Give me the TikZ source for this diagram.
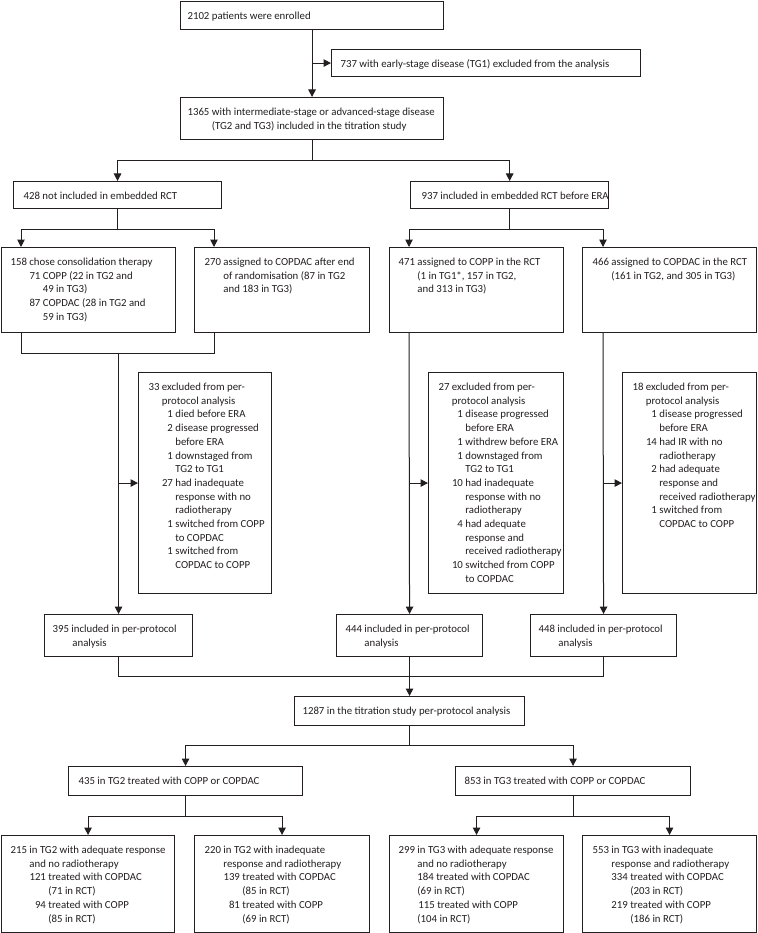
\documentclass[tikz,border=0pt]{standalone}
\usepackage{fontspec}
\setmainfont{Carlito}
\usetikzlibrary{arrows.meta,calc}
\definecolor{ink}{RGB}{35,31,32}
% one text line at x offset #1 (pt from the box's left edge)
\newcommand\Li[2]{\hbox{\vrule height10pt depth3.7pt width0pt\hskip#1pt\relax #2}}
% numbered sub line: x offset, number box width, number, text
\newcommand\Sn[4]{\hbox{\vrule height10pt depth3.7pt width0pt\hskip#1pt\relax\hbox to #2pt{\hss#3}\hskip2.44pt\relax #4}}
\newcommand\Body[3]{\vbox to #2pt{\baselineskip=13.7pt\lineskiplimit=-20pt\hrule height0pt depth0pt width#1pt\relax\vskip8pt #3\vss}}
% name, x1, y1, x2, y2, lines
\newcommand\flowbox[6]{\node[bx] (#1) at (#2,#3) {\Body{\fpeval{#4-#2}}{\fpeval{#5-#3}}{#6}};}
\tikzset{
  bx/.style={draw=ink, line width=1.1pt, inner sep=0pt, anchor=north west, text=ink,
    font=\fontsize{10.8}{13.7}\selectfont},
  ln/.style={draw=ink, line width=1pt},
  arr/.style={ln, -{Triangle[length=7.5pt,width=7.5pt]}},
}
\begin{document}
\begin{tikzpicture}[x=1pt,y=-1pt]
\useasboundingbox[fill=white] (0,0) rectangle (757,933);

\flowbox{b1}{180}{1}{443}{29}{\Li{7}{2102 patients were enrolled}}
\flowbox{b2}{331}{49}{640}{76}{\Li{9}{737 with early-stage disease (TG1) excluded from the analysis}}
\flowbox{b3}{180}{97}{443}{139}{\Li{7}{1365 with intermediate-stage or advanced-stage disease}
  \Li{31.4}{(TG2 and TG3) included in the titration study}}

\flowbox{b428}{13}{181}{221}{208}{\Li{10}{428 not included in embedded RCT}}
\flowbox{b937}{410}{181}{598}{208}{\Li{11}{937 included in embedded RCT before ERA}}

\flowbox{b158}{1}{247}{175}{332}{\Li{9}{158 chose consolidation therapy}
  \Sn{27.9}{11}{71}{COPP (22 in TG2 and}
  \Li{41.3}{49 in TG3)}
  \Sn{27.9}{11}{87}{COPDAC (28 in TG2 and}
  \Li{41.3}{59 in TG3)}}
\flowbox{b270}{194}{247}{369}{332}{\Li{10}{270 assigned to COPDAC after end}
  \Li{28.9}{of randomisation (87 in TG2}
  \Li{28.9}{and 183 in TG3)}}
\flowbox{b471}{389}{247}{563}{332}{\Li{9}{471 assigned to COPP in the RCT}
  \Li{27.9}{(1 in TG1*, 157 in TG2,}
  \Li{27.9}{and 313 in TG3)}}
\flowbox{b466}{582}{247}{756}{332}{\Li{10}{466 assigned to COPDAC in the RCT}
  \Li{28.9}{(161 in TG2, and 305 in TG3)}}

\flowbox{b33}{138}{372}{271}{593}{\Li{10}{33 excluded from per-}
  \Li{23.4}{protocol analysis}
  \Sn{23.4}{11}{1}{died before ERA}
  \Sn{23.4}{11}{2}{disease progressed}
  \Li{36.8}{before ERA}
  \Sn{23.4}{11}{1}{downstaged from}
  \Li{36.8}{TG2 to TG1}
  \Sn{23.4}{11}{27}{had inadequate}
  \Li{36.8}{response with no}
  \Li{36.8}{radiotherapy}
  \Sn{23.4}{11}{1}{switched from COPP}
  \Li{36.8}{to COPDAC}
  \Sn{23.4}{11}{1}{switched from}
  \Li{36.8}{COPDAC to COPP}}
\flowbox{b27}{428}{372}{563}{593}{\Li{10}{27 excluded from per-}
  \Li{23.4}{protocol analysis}
  \Sn{23.4}{11}{1}{disease progressed}
  \Li{36.8}{before ERA}
  \Sn{23.4}{11}{1}{withdrew before ERA}
  \Sn{23.4}{11}{1}{downstaged from}
  \Li{36.8}{TG2 to TG1}
  \Sn{23.4}{11}{10}{had inadequate}
  \Li{36.8}{response with no}
  \Li{36.8}{radiotherapy}
  \Sn{23.4}{11}{4}{had adequate}
  \Li{36.8}{response and}
  \Li{36.8}{received radiotherapy}
  \Sn{23.4}{11}{10}{switched from COPP}
  \Li{36.8}{to COPDAC}}
\flowbox{b18}{622}{372}{756}{593}{\Li{10}{18 excluded from per-}
  \Li{23.4}{protocol analysis}
  \Sn{23.4}{11}{1}{disease progressed}
  \Li{36.8}{before ERA}
  \Sn{23.4}{11}{14}{had IR with no}
  \Li{36.8}{radiotherapy}
  \Sn{23.4}{11}{2}{had adequate}
  \Li{36.8}{response and}
  \Li{36.8}{received radiotherapy}
  \Sn{23.4}{11}{1}{switched from}
  \Li{36.8}{COPDAC to COPP}}

\flowbox{b395}{44}{614}{192}{656}{\Li{8}{395 included in per-protocol}\Li{27.9}{analysis}}
\flowbox{b444}{336}{614}{482}{656}{\Li{9}{444 included in per-protocol}\Li{27.9}{analysis}}
\flowbox{b448}{530}{614}{676}{656}{\Li{8}{448 included in per-protocol}\Li{27.9}{analysis}}

\flowbox{b1287}{294}{696}{524}{725}{\Li{8}{1287 in the titration study per-protocol analysis}}

\flowbox{b435}{68}{766}{302}{795}{\Li{10}{435 in TG2 treated with COPP or COPDAC}}
\flowbox{b853}{455}{766}{690}{795}{\Li{9}{853 in TG3 treated with COPP or COPDAC}}

\flowbox{b215}{1}{835}{174}{932}{\Li{9}{215 in TG2 with adequate response}
  \Li{27.9}{and no radiotherapy}
  \Sn{27.9}{16.5}{121}{treated with COPDAC}
  \Li{46.8}{(71 in RCT)}
  \Sn{27.9}{16.5}{94}{treated with COPP}
  \Li{46.8}{(85 in RCT)}}
\flowbox{b220}{194}{835}{369}{932}{\Li{10}{220 in TG2 with inadequate}
  \Li{28.9}{response and radiotherapy}
  \Sn{28.9}{16.5}{139}{treated with COPDAC}
  \Li{47.8}{(85 in RCT)}
  \Sn{28.9}{16.5}{81}{treated with COPP}
  \Li{47.8}{(69 in RCT)}}
\flowbox{b299}{389}{835}{563}{932}{\Li{9}{299 in TG3 with adequate response}
  \Li{27.9}{and no radiotherapy}
  \Li{27.9}{184 treated with COPDAC}
  \Li{27.9}{(69 in RCT)}
  \Li{28.9}{115 treated with COPP}
  \Li{27.9}{(104 in RCT)}}
\flowbox{b553}{582}{835}{756}{932}{\Li{10}{553 in TG3 with inadequate}
  \Li{28.9}{response and radiotherapy}
  \Li{28.9}{334 treated with COPDAC}
  \Li{47.8}{(203 in RCT)}
  \Li{28.9}{219 treated with COPP}
  \Li{47.8}{(186 in RCT)}}

% connectors
\draw[arr] (b1.south) -- (b3.north);
\draw[arr] (b2.west -| b1.south) -- (b2.west);
\draw[ln] (b3.south) -- ++(0,20) coordinate (s3);
\draw[arr] (s3) -| (b428.north);
\draw[arr] (s3) -| (b937.north);
\draw[ln] (b428.south) -- ++(0,20) coordinate (s428);
\draw[arr] (s428) -| ($(b158.north west)+(20,0)$);
\draw[arr] (s428) -| ($(b270.north west)+(20,0)$);
\draw[ln] (b937.south) -- ++(0,20) coordinate (s937);
\draw[arr] (s937) -| ($(b471.north west)+(20,0)$);
\draw[arr] (s937) -| ($(b466.north west)+(21,0)$);
\draw[ln] ($(b158.south west)+(20,0)$) -- ++(0,20) coordinate (m1) -| ($(b270.south west)+(20,0)$);
\draw[arr] (b395.north |- m1) -- (b395.north);
\draw[arr] (b395.north |- b33.west) -- (b33.west);
\draw[arr] ($(b471.south west)+(20,0)$) -- (b444.north);
\draw[arr] (b444.north |- b27.west) -- (b27.west);
\draw[arr] ($(b466.south west)+(21,0)$) -- (b448.north);
\draw[arr] (b448.north |- b18.west) -- (b18.west);
\draw[ln] (b395.south) -- ++(0,19) coordinate (m2) -| (b448.south);
\draw[arr] (b444.south) -- (b1287.north);
\draw[ln] (b1287.south) -- ++(0,19) coordinate (s1287);
\draw[arr] (s1287) -| (b435.north);
\draw[arr] (s1287) -| (b853.north);
\draw[ln] (b435.south) -- ++(0,20) coordinate (s435);
\draw[arr] (s435) -| (b215.north);
\draw[arr] (s435) -| (b220.north);
\draw[ln] (b853.south) -- ++(0,20) coordinate (s853);
\draw[arr] (s853) -| (b299.north);
\draw[arr] (s853) -| (b553.north);
\end{tikzpicture}
\end{document}
